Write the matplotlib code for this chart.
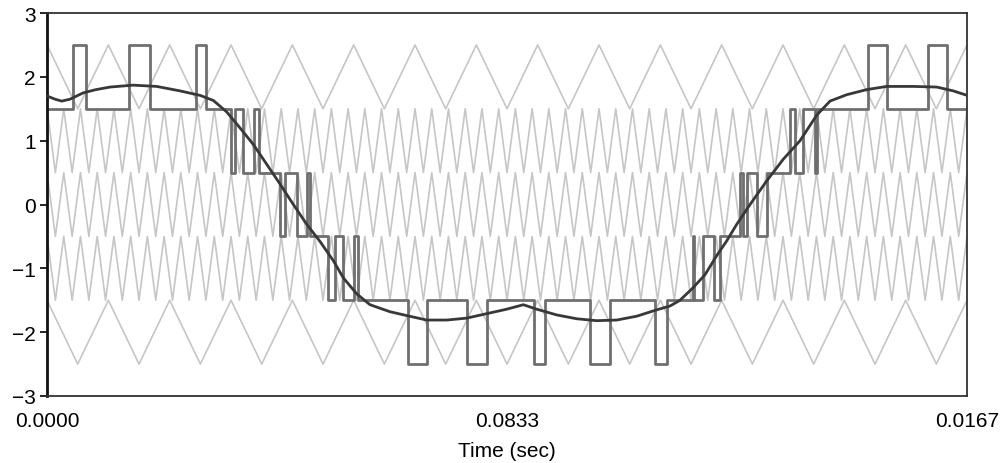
import numpy as np
import matplotlib
matplotlib.use("Agg")
import matplotlib.pyplot as plt

plt.rcParams['font.family'] = ['Liberation Sans', 'DejaVu Sans']

# ---- data ----
T_END = 0.0167
x_ticks = [0.0, 0.00835, 0.0167]
x_tick_labels = ["0.0000", "0.0833", "0.0167"]
y_ticks = [-3, -2, -1, 0, 1, 2, 3]

# carriers: band (low, high) and number of triangle cycles across the window
carrier_low = [1.5, 0.5, -0.5, -1.5, -2.5]
carrier_high = [2.5, 1.5, 0.5, -0.5, -1.5]
carrier_cycles = [15, 55, 55, 55, 15]

# reference (modulating) signal (time in ms)
ref_t_ms = [0.0, 0.145, 0.267, 0.418, 0.659, 0.889, 1.144, 1.561, 1.991, 2.414,
            2.777, 3.019, 3.262, 3.503, 3.745, 3.988, 4.230, 4.471, 4.714, 4.956,
            5.197, 5.379, 5.622, 5.863, 6.226, 6.529, 6.892, 7.255, 7.618, 7.982,
            8.345, 8.646, 8.889, 9.252, 9.615, 9.978, 10.341, 10.704, 11.067, 11.309,
            11.490, 11.732, 11.944, 12.157, 12.338, 12.520, 12.761, 13.064, 13.365, 13.669,
            13.972, 14.213, 14.516, 14.879, 15.242, 15.725, 16.150, 16.451, 16.700]
ref_v = [1.70, 1.65, 1.62, 1.65, 1.75, 1.80, 1.84, 1.87, 1.85, 1.78,
         1.71, 1.63, 1.45, 1.20, 0.94, 0.63, 0.32, 0.00, -0.31, -0.58,
         -0.88, -1.15, -1.40, -1.57, -1.68, -1.74, -1.81, -1.81, -1.78, -1.71,
         -1.64, -1.57, -1.64, -1.73, -1.79, -1.82, -1.81, -1.75, -1.65, -1.59,
         -1.50, -1.30, -1.10, -0.80, -0.57, -0.31, 0.00, 0.37, 0.71, 1.00,
         1.40, 1.62, 1.72, 1.80, 1.85, 1.85, 1.84, 1.78, 1.71]

# PWM output: switching instants (ms) and the level held after each one
pwm_switch_ms = [0.477, 0.708, 1.494, 1.870, 2.699, 2.881, 3.335, 3.413, 3.563, 3.763,
                 3.854, 4.229, 4.320, 4.533, 4.714, 4.774, 5.106, 5.228, 5.378, 5.573,
                 5.651, 6.547, 6.892, 7.618, 7.981, 8.840, 9.040, 9.857, 10.220, 11.036,
                 11.249, 11.717, 11.753, 11.908, 12.107, 12.216, 12.588, 12.625, 12.706, 12.888,
                 13.069, 13.487, 13.578, 13.728, 13.941, 13.977, 14.908, 15.242, 15.997, 16.331]
pwm_levels = [1.5, 2.5, 1.5, 2.5, 1.5, 2.5, 1.5, 0.5, 1.5, 0.5,
              1.5, 0.5, -0.5, 0.5, -0.5, 0.5, -0.5, -1.5, -0.5, -1.5,
              -0.5, -1.5, -2.5, -1.5, -2.5, -1.5, -2.5, -1.5, -2.5, -1.5,
              -2.5, -1.5, -0.5, -1.5, -0.5, -1.5, -0.5, 0.5, -0.5, 0.5,
              -0.5, 0.5, 1.5, 0.5, 1.5, 0.5, 1.5, 2.5, 1.5, 2.5,
              1.5]

# ---- figure ----
fig = plt.figure(figsize=(10.07, 4.64), dpi=100)
ax = fig.add_axes([0.0467, 0.1444, 0.9136, 0.8254])

carrier_color = '#c6c6c6'
for lo, hi, n in zip(carrier_low, carrier_high, carrier_cycles):
    tv = np.linspace(0, T_END, 2 * n + 1)
    vv = np.where(np.arange(2 * n + 1) % 2 == 0, hi, lo)
    ax.plot(tv, vv, color=carrier_color, lw=1.2, zorder=1)

edges = [0.0] + [s / 1000.0 for s in pwm_switch_ms] + [T_END]
ax.step(edges, pwm_levels + [pwm_levels[-1]], where='post',
        color='#6f6f6f', lw=2.0, zorder=2)

ax.plot(np.array(ref_t_ms) / 1000.0, ref_v, color='#383838', lw=2.0, zorder=3)

ax.set_xlim(0, T_END)
ax.set_ylim(-3, 3)
ax.set_xticks(x_ticks)
ax.set_xticklabels(x_tick_labels)
ax.set_yticks(y_ticks)
ax.tick_params(axis='x', length=0, pad=11, labelsize=15)
ax.tick_params(axis='y', length=5, width=1.2, pad=3, labelsize=15, direction='out')
ax.set_xlabel('Time (sec)', fontsize=15, labelpad=8)

for side in ['top', 'right', 'bottom']:
    ax.spines[side].set_linewidth(1.3)
    ax.spines[side].set_color('#333333')
ax.spines['left'].set_linewidth(2.0)
ax.spines['left'].set_color('#111111')

fig.savefig('out.png', dpi=100)
